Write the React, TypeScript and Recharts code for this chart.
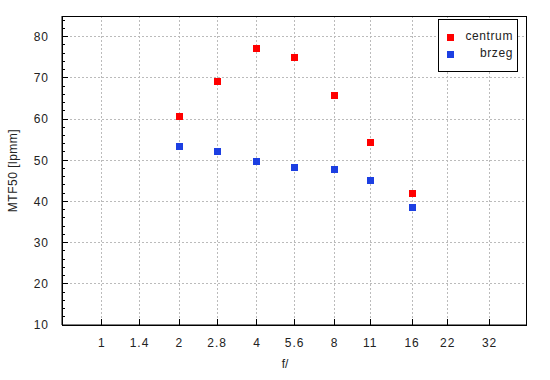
import React from 'react';
import { ScatterChart, Scatter, XAxis, YAxis, CartesianGrid, ReferenceArea, Legend, Label } from 'recharts';

const seriesNames = ['centrum', 'brzeg'];
const apertures = [2, 2.8, 4, 5.6, 8, 11, 16];
const centrum = [60.5, 69.2, 77.2, 75.0, 65.8, 54.2, 42.0];
const brzeg = [53.4, 52.0, 49.6, 48.3, 47.8, 45.1, 38.5];

const xTicks = [1, 1.4, 2, 2.8, 4, 5.6, 8, 11, 16, 22, 32];
const yMajorTicks = [10, 20, 30, 40, 50, 60, 70, 80];
const yAllTicks = [
  10, 12, 14, 16, 18, 20, 22, 24, 26, 28, 30, 32, 34, 36, 38, 40, 42, 44, 46, 48,
  50, 52, 54, 56, 58, 60, 62, 64, 66, 68, 70, 72, 74, 76, 78, 80, 82, 84,
];

const centrumData = apertures.map((f, i) => ({ f, v: centrum[i] }));
const brzegData = apertures.map((f, i) => ({ f, v: brzeg[i] }));

const FONT = '"Liberation Sans", Arial, sans-serif';
const TEXT = '#222';

const XTick = (props: any) => {
  const { x, y, payload } = props;
  return (
    <g>
      <line x1={x} x2={x} y1={y} y2={y - 6} stroke="#000" shapeRendering="crispEdges" />
      <text x={x} y={y + 22} textAnchor="middle" fontFamily={FONT} fontSize={12} fill={TEXT} letterSpacing={1}>
        {payload.value}
      </text>
    </g>
  );
};

const YTick = (props: any) => {
  const { x, y, payload } = props;
  const major = yMajorTicks.includes(payload.value);
  return (
    <g>
      <line x1={x} x2={x + (major ? 6 : 3)} y1={y} y2={y} stroke="#000" shapeRendering="crispEdges" />
      {major && (
        <text x={x - 13} y={y + 4.3} textAnchor="end" fontFamily={FONT} fontSize={12} fill={TEXT} letterSpacing={1}>
          {payload.value}
        </text>
      )}
    </g>
  );
};

const Square = (props: any) => {
  const { cx, cy, fill } = props;
  return <rect x={cx - 3.5} y={cy - 3.5} width={7} height={7} fill={fill} shapeRendering="crispEdges" />;
};

const LegendBox = (props: any) => {
  const items = [...(props.payload || [])].sort(
    (a: any, b: any) => seriesNames.indexOf(a.value) - seriesNames.indexOf(b.value)
  );
  return (
    <div
      style={{
        width: 78,
        height: 51,
        border: '1px solid #000',
        background: '#fff',
        position: 'relative',
        fontFamily: FONT,
        fontSize: 12,
        color: TEXT,
      }}
    >
      {items.map((entry: any, i: number) => (
        <div
          key={entry.value}
          style={{ position: 'absolute', left: 0, right: 0, top: 9 + i * 17, height: 17, lineHeight: '17px' }}
        >
          <span
            style={{ position: 'absolute', left: 8, top: 5, width: 7, height: 7, background: entry.color }}
          />
          <span style={{ position: 'absolute', right: 4, top: -1, letterSpacing: 0.6 }}>{entry.value}</span>
        </div>
      ))}
    </div>
  );
};

export default function App() {
  return (
    <div style={{ position: 'absolute', left: 0, top: 0, background: '#fff' }}>
      <ScatterChart width={550} height={380} margin={{ top: 16, right: 24, bottom: 0, left: 0 }}>
        <CartesianGrid
          stroke="#bbb"
          strokeDasharray="2 2"
          horizontalValues={yMajorTicks.slice(1)}
          verticalValues={xTicks}
          shapeRendering="crispEdges"
        />
        <XAxis
          dataKey="f"
          type="number"
          scale="log"
          domain={[0.7, 44.3]}
          ticks={xTicks}
          interval={0}
          allowDataOverflow
          height={55}
          tickSize={0}
          tickMargin={0}
          tickLine={false}
          tick={<XTick />}
          axisLine={{ stroke: '#000' }}
        >
          <Label
            content={(p: any) => {
              const { x, y, width } = p.viewBox;
              return (
                <text x={x + width / 2 - 9} y={y + 43} textAnchor="middle" fontFamily={FONT} fontSize={12} fill={TEXT}>
                  f/
                </text>
              );
            }}
          />
        </XAxis>
        <YAxis
          dataKey="v"
          type="number"
          domain={[10, 85]}
          ticks={yAllTicks}
          interval={0}
          allowDataOverflow
          width={62}
          tickSize={0}
          tickMargin={0}
          tickLine={false}
          tick={<YTick />}
          axisLine={{ stroke: '#000' }}
        >
          <Label
            content={(p: any) => {
              const { x, y, height } = p.viewBox;
              const cx = x + 13;
              const cy = y + height / 2;
              return (
                <text
                  x={cx}
                  y={cy}
                  transform={`rotate(-90 ${cx} ${cy})`}
                  textAnchor="middle"
                  dominantBaseline="central"
                  fontFamily={FONT}
                  fontSize={12}
                  fill={TEXT}
                  letterSpacing={0.5}
                >
                  MTF50 [lpmm]
                </text>
              );
            }}
          />
        </YAxis>
        <ReferenceArea x1={0.7} x2={44.3} y1={10} y2={85} fill="none" stroke="#000" shapeRendering="crispEdges" />
        <Legend
          layout="vertical"
          align="center"
          verticalAlign="middle"
          wrapperStyle={{ left: 438, top: 19, width: 80, height: 53 }}
          content={<LegendBox />}
        />
        <Scatter name="centrum" data={centrumData} fill="#ff0000" shape={<Square />} isAnimationActive={false} />
        <Scatter name="brzeg" data={brzegData} fill="#1c3fe2" shape={<Square />} isAnimationActive={false} />
      </ScatterChart>
    </div>
  );
}
